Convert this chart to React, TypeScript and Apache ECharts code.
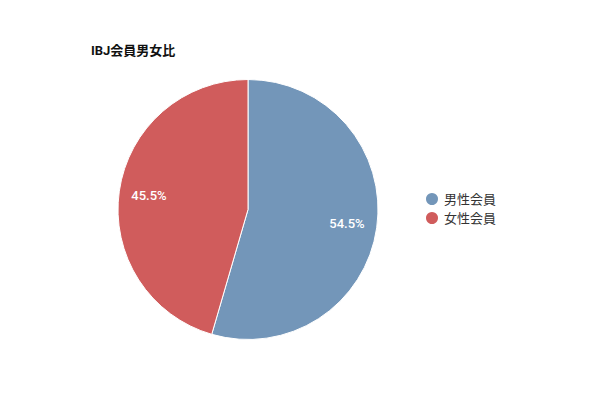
import { useEffect, useRef } from "react";
import * as echarts from "echarts";

const categories = ["男性会員", "女性会員"];
const values = [54.5, 45.5];
const colors = ["#7396b9", "#d05c5c"];

const App = () => {
  const chartRef = useRef<HTMLDivElement>(null);

  useEffect(() => {
    document.body.style.margin = "0";
    if (!chartRef.current) return;
    const chart = echarts.init(chartRef.current, null, { renderer: "svg" });

    const data = categories.map((name, i) => ({ name, value: values[i] }));

    const option: echarts.EChartsOption = {
      animation: false,
      color: colors,
      title: {
        text: "IBJ会員男女比",
        left: 86,
        top: 39,
        textStyle: {
          fontSize: 13,
          fontWeight: "bold",
          color: "#111",
          fontFamily: "Roboto, 'Noto Sans CJK JP', sans-serif",
        },
      },
      legend: {
        orient: "vertical",
        left: 419,
        top: 186,
        icon: "circle",
        itemWidth: 14,
        itemHeight: 14,
        itemGap: 3,
        data: categories,
        textStyle: {
          fontSize: 13,
          color: "#333",
          fontFamily: "Roboto, 'Noto Sans CJK JP', sans-serif",
        },
      },
      series: [
        {
          type: "pie",
          center: [248, 209.5],
          radius: [0, 130],
          startAngle: 90,
          clockwise: true,
          silent: true,
          itemStyle: { borderColor: "#fff", borderWidth: 1 },
          label: { show: false },
          labelLine: { show: false },
          data,
        },
        {
          // label-only ring so the percentages sit further out than "inside"
          type: "pie",
          center: [248, 209.5],
          radius: [64, 130],
          startAngle: 90,
          clockwise: true,
          silent: true,
          itemStyle: { color: "transparent" },
          label: {
            show: true,
            position: "inside",
            formatter: (p: any) => p.value.toFixed(1) + "%",
            color: "#fff",
            fontSize: 13,
            fontWeight: 500,
            fontFamily: "Roboto, sans-serif",
          },
          labelLine: { show: false },
          data,
        },
      ],
    };

    chart.setOption(option);
    return () => chart.dispose();
  }, []);

  return <div ref={chartRef} style={{ width: 600, height: 400 }} />;
};

export default App;
